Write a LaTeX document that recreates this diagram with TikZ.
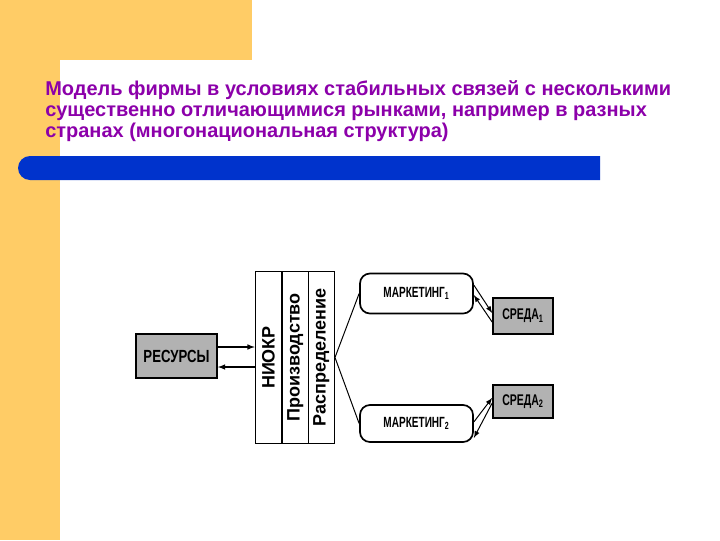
\documentclass[tikz,border=0pt]{standalone}
\usepackage{fontspec}
\setmainfont{Liberation Sans}
\newfontfamily\narrowsans[FakeStretch=0.75]{Liberation Sans}
\newfontfamily\narrowersans[FakeStretch=0.68]{Liberation Sans}
\definecolor{slideorange}{RGB}{255,204,102}
\definecolor{slideblue}{RGB}{0,51,204}
\definecolor{titlepurple}{RGB}{140,0,170}
\begin{document}
\begin{tikzpicture}[x=0.025cm, y=-0.025cm, >=latex]
	\tikzstyle{titletext} = [anchor=base west, inner sep=0pt, text=titlepurple, font=\bfseries\fontsize{14.2}{15}\selectfont]
	\tikzstyle{box}    = [rectangle, draw=black, line width=1.2pt, fill=gray!60, inner sep=0pt]
	\tikzstyle{mbox}   = [rectangle, rounded corners=0.25cm, draw=black, line width=1.2pt, fill=white, minimum width=2.825cm, inner sep=0pt, font=\narrowersans\bfseries\fontsize{10.5}{12}\selectfont]
	\tikzstyle{column} = [rectangle, draw=black, line width=0.7pt, fill=white, minimum width=0.6625cm, minimum height=4.275cm, inner sep=0pt, font=\bfseries\fontsize{12.8}{14}\selectfont]

	\useasboundingbox (0,0) rectangle (720,540);

	% slide background
	\fill[slideorange] (0,0) rectangle (252,60);
	\fill[slideorange] (0,0) rectangle (60,540);
	\fill[white, rounded corners=0.6cm] (60,60) rectangle (780,600);
	\fill[slideblue] (600,156) [rounded corners=0.3cm] -- (18,156) -- (18,180) [sharp corners] -- (600,180) -- cycle;

	\foreach \y/\txt in {95/{Модель фирмы в условиях стабильных связей с несколькими}, 116/{существенно отличающимися рынками, например в разных}, 137/{странах (многонациональная структура)}}
		\node[titletext] (title\y) at (45,\y) {\txt};

	\node[box, minimum width=2.025cm, minimum height=1.1cm, font=\narrowsans\bfseries\fontsize{12.5}{14}\selectfont] (res) at (176.5,356) {РЕСУРСЫ};

	\foreach \name/\x/\lbl in {niokr/268.5/НИОКР, proizv/295.25/Производство, raspr/321.25/Распределение}
		\node[column] (\name) at (\x, 357.5) {\rotatebox{90}{\lbl}};

	\node[mbox, minimum height=1.0cm] (m1) at (416.5,293.5) {МАРКЕТИНГ\textsubscript{1}};
	\node[mbox, minimum height=0.925cm] (m2) at (416.5,423.5) {МАРКЕТИНГ\textsubscript{2}};

	\foreach \name/\y/\h/\i in {s1/316/0.9/1, s2/401.5/0.825/2}
		\node[box, minimum width=1.5cm, minimum height=\h cm, font=\narrowersans\bfseries\fontsize{11}{12}\selectfont] (\name) at (523,\y) {СРЕДА\textsubscript{\i}};

	\foreach \to in {m1, m2}
		\draw[line width=0.7pt] (raspr.east) -- (\to.west);

	\coordinate (resin) at ([yshift=0.225cm]res.east);
	\coordinate (resout) at ([yshift=-0.275cm]res.east);
	\draw[->, line width=0.8pt] (resin) -- (resin -| niokr.west);
	\draw[<-, line width=0.8pt] (resout) -- (resout -| niokr.west);

	\draw[->, line width=0.7pt] ([yshift=0.21cm]m1.east) -- ([yshift=0.075cm]s1.west);
	\draw[->, line width=0.7pt] ([yshift=-0.15cm]s1.west) -- ([yshift=-0.04cm]m1.east);
	\draw[->, line width=0.7pt] ([yshift=0.04cm]m2.east) -- ([yshift=0.09cm]s2.west);
	\draw[->, line width=0.7pt] ([yshift=-0.04cm]s2.west) -- ([yshift=-0.36cm]m2.east);
\end{tikzpicture}
\end{document}
